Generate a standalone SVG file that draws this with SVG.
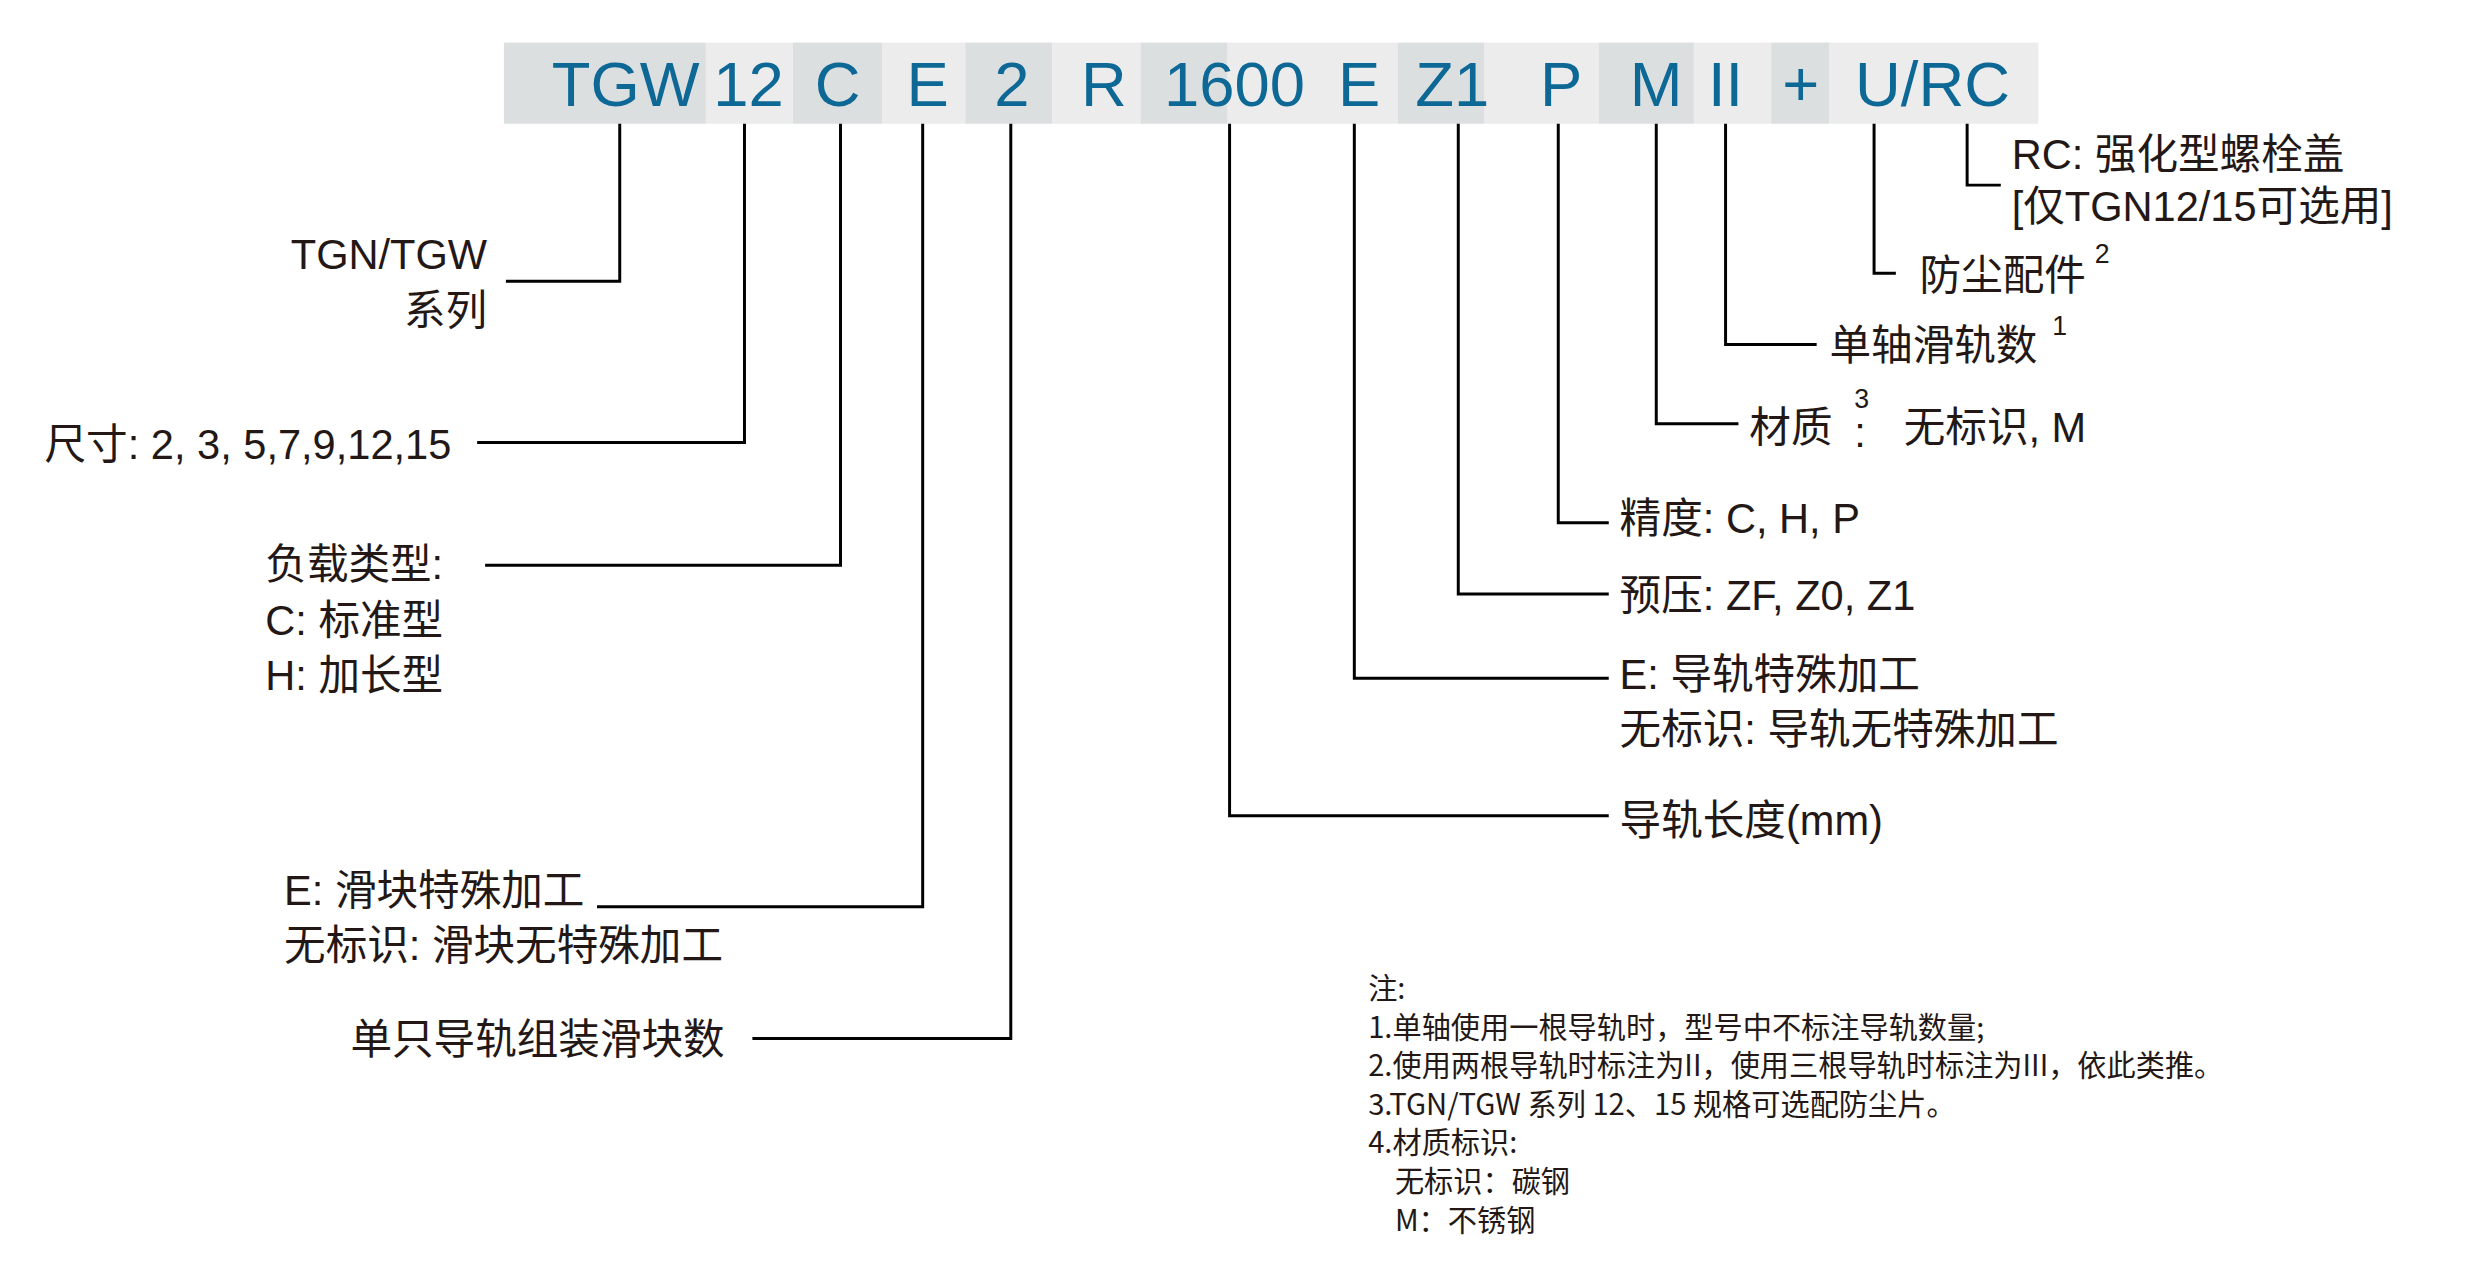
<svg xmlns="http://www.w3.org/2000/svg" width="2477" height="1263" viewBox="0 0 2477 1263">
<style>
.d{fill:#dcdfdf}.l{fill:#ececec}
.h{font-family:"Liberation Sans","Noto Sans CJK SC",sans-serif;font-size:64px;fill:#0d6896;text-anchor:middle}
.t{font-family:"Liberation Sans","Noto Sans CJK SC",sans-serif;font-size:42px;fill:#231815}
.s{font-family:"Liberation Sans","Noto Sans CJK SC",sans-serif;font-size:27px;fill:#231815}
.n{font-family:"Noto Sans CJK SC",sans-serif;font-size:29.5px;fill:#231815}
.c{fill:none;stroke:#000;stroke-width:3}
</style>
<rect width="2477" height="1263" fill="#fff"/>
<g transform="scale(0.99)">
<g id="band">
<rect class="d" x="509" y="43" width="204" height="82"/>
<rect class="l" x="713" y="43" width="88" height="82"/>
<rect class="d" x="801" y="43" width="90" height="82"/>
<rect class="l" x="891" y="43" width="84" height="82"/>
<rect class="d" x="975" y="43" width="88" height="82"/>
<rect class="l" x="1063" y="43" width="89" height="82"/>
<rect class="d" x="1152" y="43" width="88" height="82"/>
<rect class="l" x="1240" y="43" width="172" height="82"/>
<rect class="d" x="1412" y="43" width="87" height="82"/>
<rect class="l" x="1499" y="43" width="116" height="82"/>
<rect class="d" x="1615" y="43" width="96" height="82"/>
<rect class="l" x="1711" y="43" width="78" height="82"/>
<rect class="d" x="1789" y="43" width="59" height="82"/>
<rect class="l" x="1848" y="43" width="211" height="82"/>
<text class="h" x="632" y="107">TGW</text>
<text class="h" x="756" y="107">12</text>
<text class="h" x="846" y="107">C</text>
<text class="h" x="937" y="107">E</text>
<text class="h" x="1022" y="107">2</text>
<text class="h" x="1115" y="107">R</text>
<text class="h" x="1247" y="107">1600</text>
<text class="h" x="1373" y="107">E</text>
<text class="h" x="1467" y="107">Z1</text>
<text class="h" x="1577" y="107">P</text>
<text class="h" x="1673" y="107">M</text>
<text class="h" x="1743" y="107">II</text>
<text class="h" x="1819" y="107">+</text>
<text class="h" x="1952" y="107">U/RC</text>
</g>
<g id="connectors">
<polyline class="c" points="626,125 626,284 511,284"/>
<polyline class="c" points="752,125 752,447 482,447"/>
<polyline class="c" points="849,125 849,571 490,571"/>
<polyline class="c" points="932,125 932,916 603,916"/>
<polyline class="c" points="1021,125 1021,1049 760,1049"/>
<polyline class="c" points="1242,125 1242,824 1625,824"/>
<polyline class="c" points="1368,125 1368,685 1625,685"/>
<polyline class="c" points="1473,125 1473,600 1625,600"/>
<polyline class="c" points="1574,125 1574,528 1625,528"/>
<polyline class="c" points="1673,125 1673,428 1756,428"/>
<polyline class="c" points="1743,125 1743,348 1835,348"/>
<polyline class="c" points="1893,125 1893,276 1915,276"/>
<polyline class="c" points="1987,125 1987,187 2021,187"/>
</g>
<g id="n-series"><text class="t" x="492" y="272" text-anchor="end">TGN/TGW</text><text class="t" x="492" y="328" text-anchor="end">系列</text></g>
<g id="n-size"><text class="t" x="45" y="464">尺寸: 2, 3, 5,7,9,12,15</text></g>
<g id="n-load"><text class="t" x="268" y="585">负载类型:</text><text class="t" x="268" y="641">C: 标准型</text><text class="t" x="268" y="697">H: 加长型</text></g>
<g id="n-block"><text class="t" x="287" y="914">E: 滑块特殊加工</text><text class="t" x="287" y="970">无标识: 滑块无特殊加工</text></g>
<g id="n-count"><text class="t" x="354" y="1065">单只导轨组装滑块数</text></g>
<g id="n-length"><text class="t" x="1636" y="843">导轨长度(mm)</text></g>
<g id="n-rail"><text class="t" x="1636" y="696">E: 导轨特殊加工</text><text class="t" x="1636" y="752">无标识: 导轨无特殊加工</text></g>
<g id="n-preload"><text class="t" x="1636" y="616">预压: ZF, Z0, Z1</text></g>
<g id="n-precision"><text class="t" x="1636" y="538">精度: C, H, P</text></g>
<g id="n-material"><text class="t" x="1767" y="446">材质</text><text class="s" x="1873" y="412">3</text><text class="t" x="1873" y="452">:</text><text class="t" x="1923" y="446">无标识, M</text></g>
<g id="n-rails"><text class="t" x="1848" y="364">单轴滑轨数</text><text class="s" x="2073" y="338">1</text></g>
<g id="n-dust"><text class="t" x="1939" y="293">防尘配件</text><text class="s" x="2116" y="266">2</text></g>
<g id="n-rc"><text class="t" x="2032" y="171">RC: 强化型螺栓盖</text><text class="t" x="2032" y="223">[仅TGN12/15可选用]</text></g>
<g id="notes">
<text class="n" x="1382" y="1009">注:</text>
<text class="n" x="1382" y="1048">1.单轴使用一根导轨时，型号中不标注导轨数量;</text>
<text class="n" x="1382" y="1087">2.使用两根导轨时标注为II，使用三根导轨时标注为III，依此类推。</text>
<text class="n" x="1382" y="1126">3.TGN/TGW 系列 12、15 规格可选配防尘片。</text>
<text class="n" x="1382" y="1165">4.材质标识:</text>
<text class="n" x="1409" y="1204">无标识：碳钢</text>
<text class="n" x="1409" y="1243">M：不锈钢</text>
</g>
</g>
</svg>
